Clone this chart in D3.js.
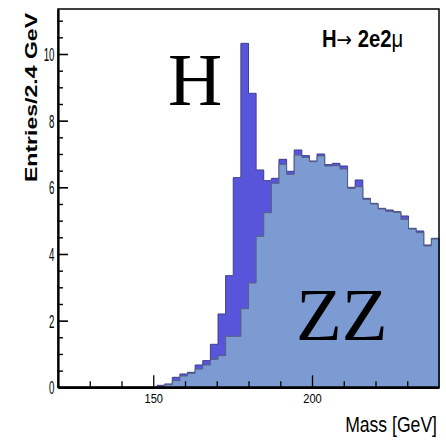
<!DOCTYPE html>
<html>
<head>
<meta charset="utf-8">
<script src="https://cdn.jsdelivr.net/npm/d3@7"></script>
<style>
  body { margin: 0; background: #fff; }
  svg { display: block; }
</style>
</head>
<body>
<div id="visHolder"></div>
<script>
// histogram binning: 50 bins of 2.4 GeV starting at 120 GeV
const binStart = 120;
const binWidth = 2.4;

// ZZ background per bin
const zzCounts = [
  0, 0, 0, 0, 0, 0, 0, 0, 0, 0,
  0, 0, 0, 0.02, 0.08, 0.20, 0.34, 0.42, 0.55, 0.67,
  0.84, 0.95, 1.53, 1.53, 2.36, 3.13, 4.53, 5.24, 6.12, 6.69,
  6.39, 6.97, 6.90, 6.77, 6.94, 6.64, 6.65, 6.55, 5.97, 6.02,
  5.64, 5.50, 5.35, 5.28, 5.25, 5.04, 4.75, 4.64, 4.24, 4.45
];

// Higgs signal stacked on top
const higgsCounts = [
  0, 0, 0, 0, 0, 0, 0, 0, 0, 0,
  0, 0, 0, 0.04, 0.02, 0.10, 0.06, 0.03, 0.12, 0.13,
  0.45, 1.25, 1.82, 4.76, 7.96, 5.69, 1.99, 0.96, 0.15, 0.15,
  0.09, 0.15, 0.05, 0.02, 0.06, 0.04, 0.07, 0.09, 0.03, 0.20,
  0.03, 0.02, 0.02, 0.04, 0.02, 0.10, 0.02, 0.05, 0.03, 0.02
];

const xMajorTicks = [150, 200];
const xMinorTicks = [130, 140, 160, 170, 180, 190, 210, 220, 230];
const yMajorTicks = [0, 2, 4, 6, 8, 10];
const yMinorTicks = [0.5, 1, 1.5, 2.5, 3, 3.5, 4.5, 5, 5.5, 6.5, 7, 7.5, 8.5, 9, 9.5, 10.5, 11];

let width = 446;
let height = 443;
let padLeft = 58, padRight = 439, padTop = 9, padBottom = 387.3;

let svg = d3.select("#visHolder")
    .append("svg")
    .attr("width", width)
    .attr("height", height);

let xScale = d3.scaleLinear().domain([120, 240]).range([padLeft, padRight]);
let yScale = d3.scaleLinear().domain([0, 11.35]).range([padBottom, padTop]);

// one point per bin left edge, plus closing point at the last right edge
let bins = zzCounts.map((zz, i) => ({
    x: binStart + i * binWidth,
    zz: zz,
    total: zz + higgsCounts[i]
}));
let last = bins[bins.length - 1];
bins.push({ x: last.x + binWidth, zz: last.zz, total: last.total });

let totalArea = d3.area()
    .curve(d3.curveStepAfter)
    .x(d => xScale(d.x))
    .y0(yScale(0))
    .y1(d => yScale(d.total));

let zzArea = d3.area()
    .curve(d3.curveStepAfter)
    .x(d => xScale(d.x))
    .y0(yScale(0))
    .y1(d => yScale(d.zz));

svg.append("path")
    .datum(bins)
    .attr("d", totalArea)
    .attr("fill", "#5955da")
    .attr("stroke", "#3d3f8c")
    .attr("stroke-width", 1);

svg.append("path")
    .datum(bins)
    .attr("d", zzArea)
    .attr("fill", "#7b9bd2")
    .attr("stroke", "#55607e")
    .attr("stroke-width", 1);

// frame
svg.append("rect")
    .attr("x", padLeft)
    .attr("y", padTop)
    .attr("width", padRight - padLeft)
    .attr("height", padBottom - padTop)
    .attr("fill", "none")
    .attr("stroke", "#000")
    .attr("stroke-width", 1.5);

// y axis, ticks pointing inward
let yAxis = d3.axisLeft(yScale)
    .tickValues(yMajorTicks)
    .tickSizeInner(-10)
    .tickSizeOuter(0)
    .tickPadding(3.5)
    .tickFormat(d3.format("d"));
let gy = svg.append("g")
    .attr("transform", `translate(${padLeft},0)`)
    .call(yAxis);
gy.select(".domain").attr("stroke-width", 2.2);
gy.selectAll(".tick line").attr("stroke-width", 1.6);
gy.selectAll(".tick text")
    .attr("font-family", "Liberation Sans, Arial, sans-serif")
    .attr("font-size", 18)
    .attr("dy", "0.36em")
    .attr("textLength", d => String(d).length * 5.4)
    .attr("lengthAdjust", "spacingAndGlyphs");

let yMinor = d3.axisLeft(yScale)
    .tickValues(yMinorTicks)
    .tickSizeInner(-5)
    .tickSizeOuter(0)
    .tickFormat("");
let gym = svg.append("g")
    .attr("transform", `translate(${padLeft},0)`)
    .call(yMinor);
gym.select(".domain").remove();
gym.selectAll(".tick line").attr("stroke-width", 1.4);

// x axis, ticks pointing up
let xAxis = d3.axisBottom(xScale)
    .tickValues(xMajorTicks)
    .tickSizeInner(-12)
    .tickSizeOuter(0)
    .tickPadding(7)
    .tickFormat(d3.format("d"));
let gx = svg.append("g")
    .attr("transform", `translate(0,${padBottom})`)
    .call(xAxis);
gx.select(".domain").attr("stroke-width", 2.6);
gx.selectAll(".tick line").attr("stroke-width", 1.3);
gx.selectAll(".tick text")
    .attr("font-family", "Liberation Sans, Arial, sans-serif")
    .attr("font-size", 12.5)
    .attr("textLength", 18.5)
    .attr("lengthAdjust", "spacingAndGlyphs");

let xMinor = d3.axisBottom(xScale)
    .tickValues(xMinorTicks)
    .tickSizeInner(-6)
    .tickSizeOuter(0)
    .tickFormat("");
let gxm = svg.append("g")
    .attr("transform", `translate(0,${padBottom})`)
    .call(xMinor);
gxm.select(".domain").remove();
gxm.selectAll(".tick line").attr("stroke-width", 1.3);

// axis titles
svg.append("text")
    .attr("transform", "translate(37,97.5) rotate(-90)")
    .attr("text-anchor", "middle")
    .attr("font-family", "Liberation Sans, Arial, sans-serif")
    .attr("font-weight", "bold")
    .attr("font-size", 17)
    .attr("textLength", 169)
    .attr("lengthAdjust", "spacingAndGlyphs")
    .text("Entries/2.4 GeV");

svg.append("text")
    .attr("transform", "translate(437,432) scale(0.8,1)")
    .attr("text-anchor", "end")
    .attr("font-family", "Liberation Sans, Arial, sans-serif")
    .attr("font-size", 22)
    .text("Mass [GeV]");

// channel label
let chan = svg.append("text")
    .attr("transform", "translate(322,47) scale(0.88,1)")
    .attr("font-family", "Liberation Sans, Arial, sans-serif")
    .attr("font-size", 23);
chan.append("tspan").attr("font-weight", "bold").text("H");
chan.append("tspan").attr("font-family", "DejaVu Sans, sans-serif").attr("font-size", 21).text("\u2192");
chan.append("tspan").attr("font-weight", "bold").text(" 2e2");
chan.append("tspan").text("\u03bc");

// big labels
svg.append("text")
    .attr("x", 168)
    .attr("y", 105)
    .attr("font-family", "Liberation Serif, Times New Roman, serif")
    .attr("font-size", 75)
    .text("H");

svg.append("text")
    .attr("x", 296)
    .attr("y", 340)
    .attr("font-family", "Liberation Serif, Times New Roman, serif")
    .attr("font-size", 75)
    .text("ZZ");
</script>
</body>
</html>
